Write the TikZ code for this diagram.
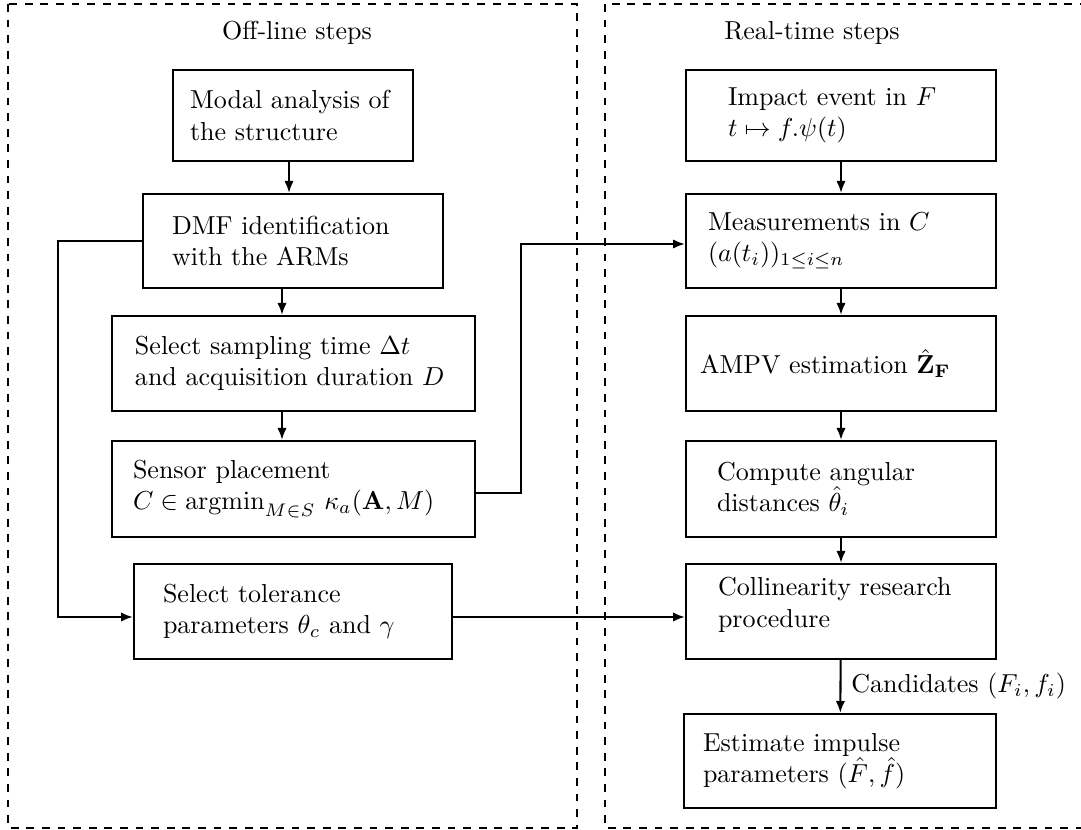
\documentclass[tikz,border=0pt]{standalone}
\usetikzlibrary{arrows.meta}
\tikzset{
  stepbox/.style={draw, line width=0.8pt, rectangle, inner ysep=0pt, align=left},
  frame/.style={draw, dashed, line width=0.6pt},
  arr/.style={-{Latex[length=4.6pt,width=3.6pt]}, line width=0.8pt},
  title/.style={inner sep=0pt}
}
% name, x1, x2, y1, y2, left padding, text   (all in pixels of the reference)
\newcommand\mkbox[7]{%
  \node[stepbox, minimum width={(#3-#2)*0.3846pt}, minimum height={(#5-#4)*0.3846pt},
        text width={(#3-#2-2*#6)*0.3846pt}, inner xsep={#6*0.3846pt}]
        (#1) at ({(#2+#3)/2},{(#4+#5)/2}) {#7};}
\begin{document}
\begin{tikzpicture}[x=0.3846pt, y=-0.3846pt]
\useasboundingbox (0,0) rectangle (1081,830);
% frames
\draw[frame] (8,4) rectangle (577,828);
\draw[frame] (605,4) rectangle (1130,828);
\node[title] (tleft) at (297,33) {Off-line steps};
\node[title] (tright) at (812,33) {Real-time steps};
% left column
\mkbox{modal}{173}{413}{70}{161}{17}{\mbox{Modal analysis of}\\\mbox{the structure}}
\mkbox{dmf}{143}{443}{194}{288}{29}{\mbox{DMF identification}\\\mbox{with the ARMs}}
\mkbox{samp}{112}{475}{316}{411}{23}{\mbox{Select sampling time $\Delta t$}\\\mbox{and acquisition duration $D$}}
\mkbox{sensor}{112}{475}{441}{537}{21}{\mbox{Sensor placement}\\\mbox{$C\in \mathrm{argmin}_{M\in S}\ \kappa_a(\mathbf{A},M)$}}
\mkbox{tol}{134}{452}{564}{659}{29}{\mbox{Select tolerance}\\\mbox{parameters $\theta_c$ and $\gamma$}}
% right column
\mkbox{impact}{686}{996}{70}{161}{42}{\mbox{Impact event in $F$}\\\mbox{$t\mapsto f.\psi(t)$}}
\mkbox{meas}{686}{996}{194}{288}{22}{\mbox{Measurements in $C$}\\\mbox{$(a(t_i))_{1\leq i\leq n}$}}
\mkbox{ampv}{686}{996}{316}{411}{14}{\mbox{AMPV estimation $\hat{\mathbf{Z}}_{\mathbf{F}}$}}
\mkbox{comp}{686}{996}{441}{537}{31}{\mbox{Compute angular}\\\mbox{distances $\hat{\theta}_i$}}
\mkbox{coll}{686}{996}{564}{659}{32}{\mbox{Collinearity research}\\\mbox{procedure}\rule[-7pt]{0pt}{7pt}}
\mkbox{est}{684}{996}{714}{808}{19}{\mbox{Estimate impulse}\\\mbox{parameters $(\hat{F},\hat{f})$}}
% left column arrows
\coordinate (a1) at (289,0);
\coordinate (a2) at (282,0);
\draw[arr] (a1 |- modal.south) -- (a1 |- dmf.north);
\draw[arr] (a2 |- dmf.south) -- (a2 |- samp.north);
\draw[arr] (a2 |- samp.south) -- (a2 |- sensor.north);
% cross connections
\coordinate (c1) at (58,241);
\coordinate (c2) at (58,617);
\draw[arr] (dmf.west) -- (c1) -- (c2) -- (c2 -| tol.west);
\coordinate (c3) at (521,493);
\coordinate (c4) at (521,244);
\draw[arr] (c3 -| sensor.east) -- (c3) -- (c4) -- (c4 -| meas.west);
\draw[arr] (c2 -| tol.east) -- (c2 -| coll.west);
% right column arrows
\draw[arr] (impact) -- (meas);
\draw[arr] (meas) -- (ampv);
\draw[arr] (ampv) -- (comp);
\draw[arr] (comp) -- (coll);
\draw[arr] (coll) -- node[right, inner sep=0pt, xshift=3.8pt] (cand) {Candidates $(F_i,f_i)$} (est);
\end{tikzpicture}
\end{document}
